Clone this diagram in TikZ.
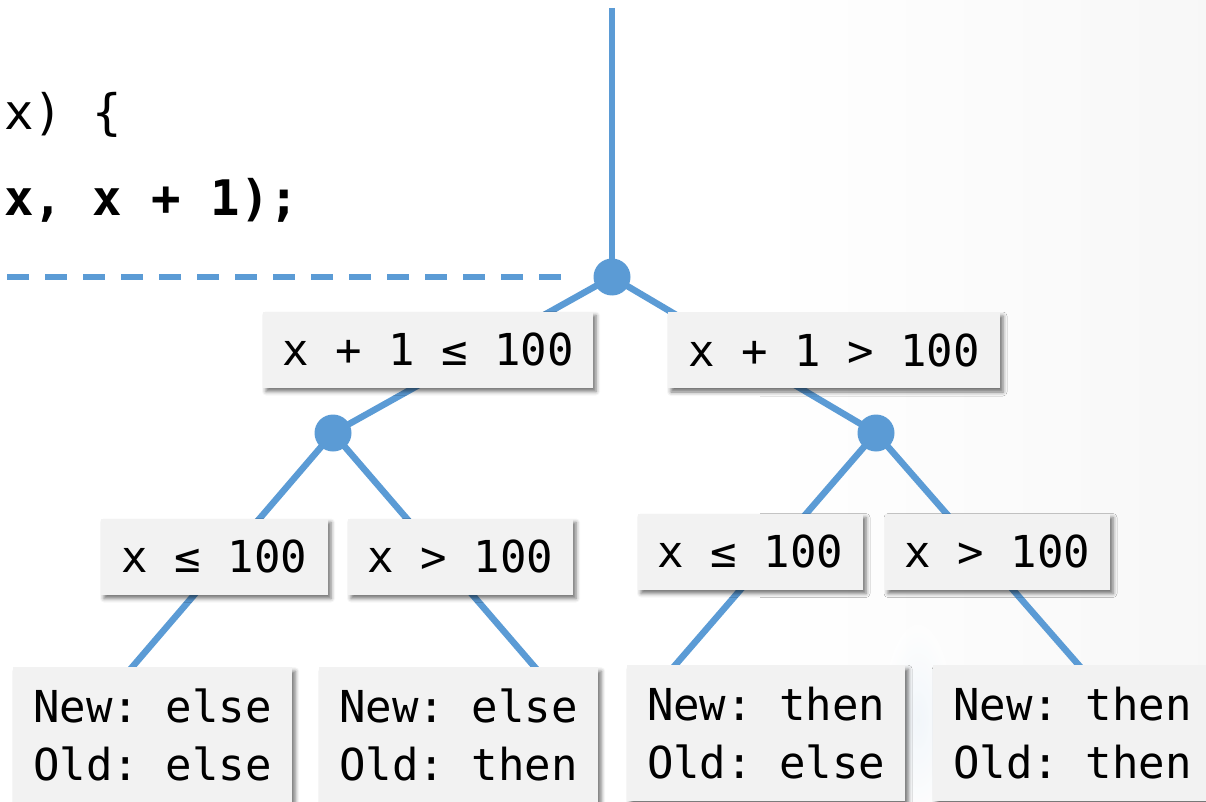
\documentclass[tikz,border=0pt]{standalone}
\usepackage{fontspec}
\setmonofont{DejaVu Sans Mono}
\usetikzlibrary{shadows.blur}

\definecolor{edgeblue}{HTML}{5B9BD5}
\definecolor{boxfill}{HTML}{F2F2F2}

\begin{document}
\begin{tikzpicture}[x=1pt, y=-1pt,
  edge/.style={draw=edgeblue, line width=6.5pt},
  junction/.style={circle, fill=edgeblue, minimum size=37pt, inner sep=0pt},
  codeline/.style={anchor=base west, inner sep=0pt,
    font=\ttfamily\fontsize{49}{60}\selectfont},
  boxbase/.style={fill=boxfill, inner sep=0pt,
    font=\ttfamily\fontsize{44}{58}\selectfont,
    blur shadow={shadow xshift=3pt, shadow yshift=-4pt,
      shadow blur radius=4pt, shadow opacity=55}},
  condbox/.style={boxbase, minimum height=76pt, text height=32pt, text depth=0pt},
  leafbox/.style={boxbase, anchor=north west, align=left,
    minimum width=279pt, minimum height=136pt}
]
\useasboundingbox (0,0) rectangle (1206,802);
\clip (0,0) rectangle (1206,802);

% faint paper tint on the right
\shade[left color=white, right color=gray!6] (760,0) rectangle (1206,802);
\shade[inner color=edgeblue!12, outer color=white, opacity=0.6]
  (918,720) ellipse [x radius=35, y radius=95];

% code fragment
\node[codeline] (code1) at (4,130) {x) \{};
\node[codeline, font=\ttfamily\bfseries\fontsize{49}{60}\selectfont] (code2) at (4,215) {x, x + 1);};

% junctions
\node[junction] (root) at (612,277) {};
\node[junction] (jl) at (333,433) {};
\node[junction] (jr) at (876,433) {};

% path boundary
\coordinate (top) at (612,8);
\coordinate (cutend) at (562,277);
\coordinate (cutstart) at (7,277);
\draw[draw=edgeblue, line width=5.5pt, dash pattern=on 22pt off 16pt] (cutstart) -- (cutend);

% leaf attachment points
\coordinate (e1) at (128,672);
\coordinate (e2) at (539,672);
\coordinate (e3) at (671,670);
\coordinate (e4) at (1083,670);

% connectors
\draw[edge] (top) -- (root.center);
\draw[edge] (root.center) -- (jl.center);
\draw[edge] (root.center) -- (jr.center);
\draw[edge] (jl.center) -- (e1);
\draw[edge] (jl.center) -- (e2);
\draw[edge] (jr.center) -- (e3);
\draw[edge] (jr.center) -- (e4);

% condition boxes
\node[condbox, minimum width=330pt] (b1) at (428,349.5) {x + 1 ≤ 100};
\node[condbox, minimum width=332pt] (b2) at (834,350) {x + 1 > 100};
\node[condbox, minimum width=227pt] (c1) at (214.5,556.5) {x ≤ 100};
\node[condbox, minimum width=225pt] (c2) at (460.5,556.5) {x > 100};
\node[condbox, minimum width=225pt] (c3) at (750.5,551.5) {x ≤ 100};
\node[condbox, minimum width=225pt] (c4) at (997.5,551.5) {x > 100};

% outcome boxes
\node[leafbox] (d1) at (13,667) {New: else\\Old: else};
\node[leafbox] (d2) at (319,667) {New: else\\Old: then};
\node[leafbox, minimum width=278pt] (d3) at (627,665) {New: then\\Old: else};
\node[leafbox] (d4) at (933,665) {New: then\\Old: then};
\end{tikzpicture}
\end{document}
